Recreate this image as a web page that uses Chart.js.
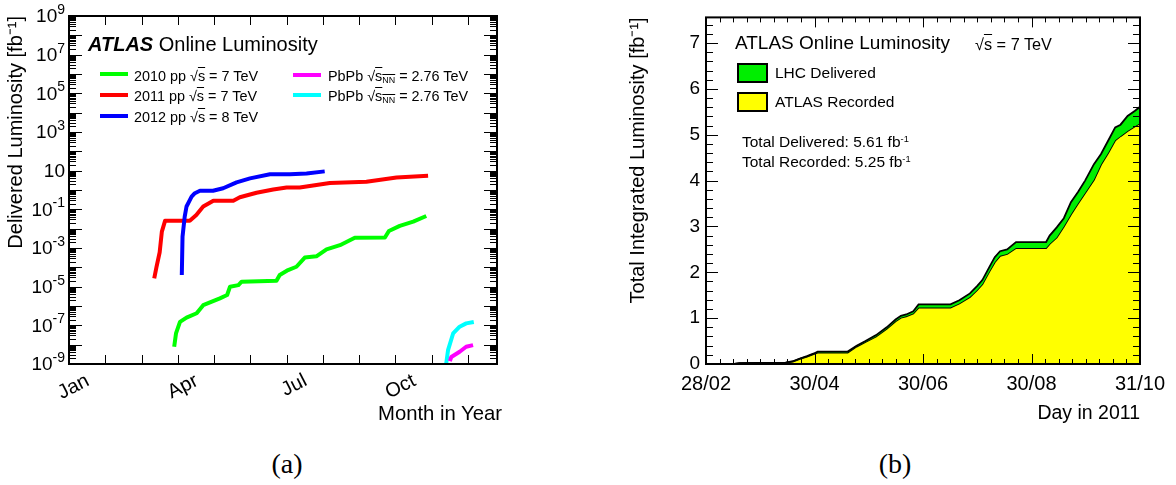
<!DOCTYPE html>
<html>
<head>
<meta charset="utf-8">
<script src="https://cdn.jsdelivr.net/npm/chart.js@4.4.1/dist/chart.umd.min.js"></script>
<style>
  html,body{margin:0;padding:0;background:#fff;}
  body{width:1176px;height:485px;position:relative;overflow:hidden;font-family:"Liberation Sans",Arial,Helvetica,sans-serif;color:#000;}
  canvas{position:absolute;top:0;}
  #ca{left:0;}
  #cb{left:580px;}
  .t{position:absolute;white-space:nowrap;line-height:1;color:#000;}
  .ov{text-decoration:overline;text-decoration-thickness:1px;}
  .sub{font-size:0.62em;vertical-align:-0.25em;}
  .sup{font-size:0.6em;vertical-align:0.55em;}
  .sw{position:absolute;height:4px;width:28px;}
  .box{position:absolute;width:31px;height:20px;box-sizing:border-box;border:2px solid #000;}
  .cap{position:absolute;width:100px;text-align:center;font-family:"Liberation Serif","Times New Roman",serif;font-size:28px;line-height:1;}
</style>
</head>
<body>
<canvas id="ca" width="560" height="440"></canvas>
<canvas id="cb" width="596" height="440"></canvas>

<!-- panel (a) annotations -->
<div class="t" style="left:88px;top:34px;font-size:20px;"><b><i>ATLAS</i></b> Online Luminosity</div>
<div class="sw" style="left:100px;top:72px;background:#00ff00;"></div>
<div class="t" style="left:134px;top:68.6px;font-size:14.4px;">2010 pp √<span class="ov">s</span> = 7 TeV</div>
<div class="sw" style="left:100px;top:93px;background:#ff0000;"></div>
<div class="t" style="left:134px;top:89.1px;font-size:14.4px;">2011 pp √<span class="ov">s</span> = 7 TeV</div>
<div class="sw" style="left:100px;top:114px;background:#0000ff;"></div>
<div class="t" style="left:134px;top:110.1px;font-size:14.4px;">2012 pp √<span class="ov">s</span> = 8 TeV</div>
<div class="sw" style="left:293px;top:73px;background:#ff00ff;"></div>
<div class="t" style="left:328px;top:68.6px;font-size:14.4px;">PbPb √<span class="ov">s<span class="sub">NN</span></span> = 2.76 TeV</div>
<div class="sw" style="left:293px;top:93px;background:#00ffff;"></div>
<div class="t" style="left:328px;top:89.1px;font-size:14.4px;">PbPb √<span class="ov">s<span class="sub">NN</span></span> = 2.76 TeV</div>
<div class="t" style="left:378px;top:402.7px;font-size:20.3px;">Month in Year</div>

<!-- panel (b) annotations -->
<div class="t" style="left:735px;top:33.2px;font-size:19px;">ATLAS Online Luminosity</div>
<div class="t" style="left:975px;top:36.2px;font-size:16.3px;">√<span class="ov">s</span> = 7 TeV</div>
<div class="box" style="left:737px;top:63px;background:#00ee00;"></div>
<div class="t" style="left:775px;top:65.4px;font-size:15.5px;">LHC Delivered</div>
<div class="box" style="left:737px;top:92px;background:#ffff00;"></div>
<div class="t" style="left:775px;top:94.4px;font-size:15.5px;">ATLAS Recorded</div>
<div class="t" style="left:742px;top:133.9px;font-size:15.5px;">Total Delivered: 5.61 fb<span class="sup">-1</span></div>
<div class="t" style="left:742px;top:154.4px;font-size:15.5px;">Total Recorded: 5.25 fb<span class="sup">-1</span></div>

<div class="cap" style="left:237px;top:450px;">(a)</div>
<div class="cap" style="left:845px;top:450px;">(b)</div>

<script>
// ---------------- Panel (a) data: delivered luminosity per year (log scale) ----------------
const monthTickValues = [0, 3, 6, 9];
const monthTickLabels = ['Jan', 'Apr', 'Jul', 'Oct'];
const lumiTickValues = [1e-9, 1e-7, 1e-5, 1e-3, 1e-1, 1e1, 1e3, 1e5, 1e7, 1e9];
const lumiTickBase   = ['10', '10', '10', '10', '10', '10', '10', '10', '10', '10'];
const lumiTickExp    = ['-9', '-7', '-5', '-3', '-1', '', '3', '5', '7', '9'];

const pp2010Month = [2.90, 2.95, 3.06, 3.24, 3.52, 3.70, 4.16, 4.36, 4.44, 4.67, 4.76, 5.72, 5.81, 6.04, 6.27, 6.50, 6.82, 7.10, 7.47, 7.88, 8.71, 8.82, 9.12, 9.49, 9.85];
const pp2010Lumi  = [7.8e-9, 3.8e-8, 1.5e-7, 2.5e-7, 4.2e-7, 1.1e-6, 2.5e-6, 3.7e-6, 1.0e-5, 1.2e-5, 1.8e-5, 2.0e-5, 4.0e-5, 7.2e-5, 1.07e-4, 3.2e-4, 3.7e-4, 8.5e-4, 1.4e-3, 3.4e-3, 3.5e-3, 7.6e-3, 1.4e-2, 2.3e-2, 4.5e-2];

const pp2011Month = [2.35, 2.41, 2.50, 2.56, 2.65, 3.33, 3.51, 3.70, 3.98, 4.53, 4.71, 5.17, 5.63, 6.00, 6.36, 6.50, 7.19, 8.20, 9.03, 9.90];
const pp2011Lumi  = [2.7e-5, 1.0e-4, 6.0e-4, 7.0e-3, 0.026, 0.026, 0.051, 0.14, 0.28, 0.28, 0.42, 0.72, 1.07, 1.35, 1.35, 1.48, 2.3, 2.7, 4.4, 5.5];

const pp2012Month = [3.11, 3.13, 3.19, 3.24, 3.38, 3.47, 3.61, 3.97, 4.25, 4.62, 4.99, 5.54, 6.09, 6.55, 7.05];
const pp2012Lumi  = [4.0e-5, 3.8e-3, 0.042, 0.14, 0.45, 0.68, 0.91, 0.91, 1.23, 2.5, 4.0, 6.5, 6.5, 7.2, 9.2];

const pbpb2010Month = [10.50, 10.54, 10.77, 10.95, 11.14];
const pbpb2010Lumi  = [1.4e-9, 2.3e-9, 4.3e-9, 7.8e-9, 9.5e-9];

const pbpb2011Month = [10.40, 10.45, 10.59, 10.77, 10.95, 11.16];
const pbpb2011Lumi  = [1.05e-9, 5.2e-9, 3.8e-8, 8.5e-8, 1.26e-7, 1.5e-7];

// ---------------- Panel (b) data: integrated luminosity 2011 (day of year) ----------------
const dayTickValues = [59, 120.25, 181.5, 242.75, 304];
const dayTickLabels = ['28/02', '30/04', '30/06', '30/08', '31/10'];
const intLumiTickValues = [0, 1, 2, 3, 4, 5, 6, 7];
const intLumiTickLabels = ['0', '1', '2', '3', '4', '5', '6', '7'];

const day2011       = [59, 75, 78, 104, 108, 112, 116, 120, 122, 139, 144, 149, 155, 161, 166, 169, 172, 176, 179, 197, 202, 208, 212, 215, 219, 222, 225, 229, 234, 251, 253, 257, 261, 265, 269, 273, 278, 282, 286, 290, 293, 297, 301, 304];
const delivered2011 = [0, 0, 0.02, 0.03, 0.06, 0.12, 0.17, 0.23, 0.27, 0.27, 0.40, 0.50, 0.63, 0.80, 0.97, 1.05, 1.08, 1.15, 1.30, 1.30, 1.39, 1.54, 1.70, 1.83, 2.12, 2.33, 2.46, 2.50, 2.66, 2.66, 2.80, 2.98, 3.18, 3.53, 3.75, 4.00, 4.36, 4.58, 4.87, 5.16, 5.22, 5.41, 5.52, 5.61];
const recorded2011  = [0, 0, 0.02, 0.03, 0.05, 0.11, 0.16, 0.22, 0.25, 0.25, 0.38, 0.48, 0.60, 0.77, 0.93, 1.01, 1.04, 1.10, 1.23, 1.23, 1.32, 1.46, 1.61, 1.74, 2.02, 2.22, 2.36, 2.40, 2.53, 2.53, 2.62, 2.76, 3.00, 3.26, 3.50, 3.73, 4.02, 4.35, 4.60, 4.88, 4.97, 5.08, 5.18, 5.25];

// ---------------- helpers ----------------
const FONT = '"Liberation Sans", Arial, Helvetica, sans-serif';
Chart.defaults.font.family = FONT;
Chart.defaults.color = '#000';
const zip = (xs, ys) => xs.map((x, i) => ({x: x, y: ys[i]}));

// Draws the ROOT-style frame with inward tick marks on all four sides, using the chart's scales.
const frameTicks = {
  id: 'frameTicks',
  afterDraw(chart, args, o) {
    const {ctx, chartArea: a, scales} = chart;
    const xs = scales.x, ys = scales.y;
    ctx.save();
    ctx.strokeStyle = '#000';
    const drawX = (vals, len, w) => {
      ctx.lineWidth = w; ctx.beginPath();
      vals.forEach(v => {
        const p = Math.round(xs.getPixelForValue(v)) + (w % 2 ? 0.5 : 0);
        ctx.moveTo(p, a.bottom); ctx.lineTo(p, a.bottom - len);
        ctx.moveTo(p, a.top); ctx.lineTo(p, a.top + len);
      });
      ctx.stroke();
    };
    const drawY = (vals, len, w) => {
      ctx.lineWidth = w; ctx.beginPath();
      vals.forEach(v => {
        const p = Math.round(ys.getPixelForValue(v)) + (w % 2 ? 0.5 : 0);
        ctx.moveTo(a.left, p); ctx.lineTo(a.left + len, p);
        ctx.moveTo(a.right, p); ctx.lineTo(a.right - len, p);
      });
      ctx.stroke();
    };
    drawX(o.xMinor, o.xMinorLen, 1);
    drawX(o.xMajor, o.xMajorLen, o.majorWidth);
    drawY(o.yMinor, o.yMinorLen, 1);
    drawY(o.yMajor, o.yMajorLen, o.majorWidth);
    ctx.lineWidth = 2;
    ctx.strokeRect(a.left, a.top, a.right - a.left, a.bottom - a.top);

    // power-of-ten tick labels with real superscript exponents (panel a)
    if (o.powLabels) {
      const L = o.powLabels;
      ctx.fillStyle = '#000';
      ctx.textBaseline = 'middle';
      ctx.textAlign = 'right';
      L.values.forEach((v, i) => {
        const p = ys.getPixelForValue(v);
        let right = a.left - L.padding;
        if (L.exps[i]) {
          ctx.font = L.expSize + 'px ' + FONT;
          ctx.fillText(L.exps[i], right, p - L.expRaise);
          right -= ctx.measureText(L.exps[i]).width;
        }
        ctx.font = L.baseSize + 'px ' + FONT;
        ctx.fillText(L.bases[i], right, p + 1);
      });
    }
    ctx.restore();
  }
};

// tick positions for the decorative tick marks
const monthMarks = [0,1,2,3,4,5,6,7,8,9,10,11];
const decadeMarks = [];
const logMinorMarks = [];
for (let e = -9; e <= 9; e++) {
  decadeMarks.push(Math.pow(10, e));
  if (e < 9) for (let k = 2; k <= 9; k++) logMinorMarks.push(k * Math.pow(10, e));
}
const dayMinorMarks = [];
for (let k = 0; k <= 32; k++) if (k % 8) dayMinorMarks.push(59 + k * 245 / 32);
const intMinorMarks = [];
for (let k = 0; k <= 37; k++) if (k % 5) intMinorMarks.push(k * 0.2);

// ---------------- Chart (a) ----------------
new Chart(document.getElementById('ca'), {
  type: 'line',
  data: {
    datasets: [
      {label: '2012 pp', data: zip(pp2012Month, pp2012Lumi), borderColor: '#0000ff', order: 0},
      {label: '2011 pp', data: zip(pp2011Month, pp2011Lumi), borderColor: '#ff0000', order: 1},
      {label: '2010 pp', data: zip(pp2010Month, pp2010Lumi), borderColor: '#00ff00', order: 2},
      {label: 'PbPb 2010', data: zip(pbpb2010Month, pbpb2010Lumi), borderColor: '#ff00ff', order: 3},
      {label: 'PbPb 2011', data: zip(pbpb2011Month, pbpb2011Lumi), borderColor: '#00ffff', order: 4}
    ]
  },
  options: {
    responsive: false, animation: false, devicePixelRatio: 1,
    layout: {padding: {left: 0, top: 16, right: 63, bottom: 0}},
    elements: {
      point: {radius: 0},
      line: {borderWidth: 4, tension: 0, fill: false, borderJoinStyle: 'round', borderCapStyle: 'butt'}
    },
    plugins: {
      legend: {display: false}, tooltip: {enabled: false},
      frameTicks: {xMajor: monthMarks, xMajorLen: 9, xMinor: [], xMinorLen: 0,
                   yMajor: decadeMarks, yMajorLen: 13, yMinor: logMinorMarks, yMinorLen: 7, majorWidth: 1,
                   powLabels: {values: lumiTickValues, bases: lumiTickBase, exps: lumiTickExp,
                               baseSize: 19, expSize: 14, expRaise: 6, padding: 4}}
    },
    scales: {
      x: {
        type: 'linear', min: 0, max: 11.8,
        grid: {display: false, drawTicks: false}, border: {display: false},
        afterBuildTicks: s => { s.ticks = monthTickValues.map(v => ({value: v})); },
        afterFit: s => { s.height = 76; },
        ticks: {autoSkip: false, minRotation: 27, maxRotation: 27, labelOffset: 19, padding: 5,
                font: {size: 20}, color: '#000', callback: (v, i) => monthTickLabels[i]}
      },
      y: {
        type: 'logarithmic', min: 1e-9, max: 1e9,
        grid: {display: false, drawTicks: false}, border: {display: false},
        afterBuildTicks: s => { s.ticks = lumiTickValues.map(v => ({value: v})); },
        afterFit: s => { s.width = 69; },
        ticks: {display: false},
        title: {display: true, text: 'Delivered Luminosity [fb⁻¹]', align: 'end',
                font: {size: 20}, color: '#000', padding: {top: 4, bottom: 0}}
      }
    }
  },
  plugins: [frameTicks]
});

// ---------------- Chart (b) ----------------
new Chart(document.getElementById('cb'), {
  type: 'line',
  data: {
    datasets: [
      {label: 'LHC Delivered', data: zip(day2011, delivered2011), borderColor: '#000000',
       backgroundColor: '#00ee00', fill: '+1', order: 0},
      {label: 'ATLAS Recorded', data: zip(day2011, recorded2011), borderColor: '#000000',
       backgroundColor: '#ffff00', fill: 'origin', order: 1}
    ]
  },
  options: {
    responsive: false, animation: false, devicePixelRatio: 1,
    layout: {padding: {left: 0, top: 17, right: 36, bottom: 0}},
    elements: {
      point: {radius: 0},
      line: {borderWidth: 1.8, tension: 0, borderJoinStyle: 'miter'}
    },
    plugins: {
      legend: {display: false}, tooltip: {enabled: false},
      filler: {propagate: false},
      frameTicks: {xMajor: dayTickValues, xMajorLen: 10, xMinor: dayMinorMarks, xMinorLen: 5,
                   yMajor: intLumiTickValues, yMajorLen: 12, yMinor: intMinorMarks, yMinorLen: 7, majorWidth: 1}
    },
    scales: {
      x: {
        type: 'linear', min: 59, max: 304,
        grid: {display: false, drawTicks: false}, border: {display: false},
        afterBuildTicks: s => { s.ticks = dayTickValues.map(v => ({value: v})); },
        afterFit: s => { s.height = 76; },
        ticks: {autoSkip: false, minRotation: 0, maxRotation: 0, padding: 8,
                font: {size: 20}, color: '#000', callback: (v, i) => dayTickLabels[i]},
        title: {display: true, text: 'Day in 2011', align: 'end', font: {size: 19.5}, color: '#000',
                padding: {top: 0, bottom: 15}}
      },
      y: {
        type: 'linear', min: 0, max: 7.56,
        grid: {display: false, drawTicks: false}, border: {display: false},
        afterBuildTicks: s => { s.ticks = intLumiTickValues.map(v => ({value: v})); },
        afterFit: s => { s.width = 126; },
        ticks: {autoSkip: false, padding: 6, font: {size: 19}, color: '#000',
                callback: (v, i) => intLumiTickLabels[i]},
        title: {display: true, text: 'Total Integrated Luminosity [fb⁻¹]', align: 'end',
                font: {size: 20}, color: '#000', padding: {top: 46, bottom: 0}}
      }
    }
  },
  plugins: [frameTicks]
});
</script>
</body>
</html>
